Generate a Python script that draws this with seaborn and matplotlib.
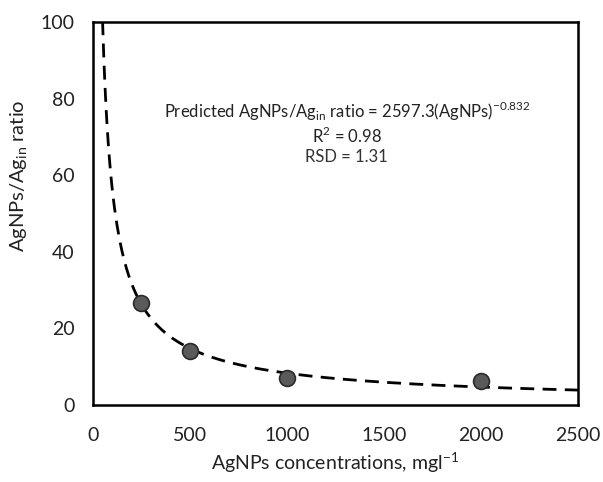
import numpy as np
import pandas as pd
import matplotlib
matplotlib.use('Agg')
import matplotlib.pyplot as plt
import seaborn as sns

# measured points
conc = [250, 500, 1000, 2000]
ratio = [26.5, 14.2, 7.0, 6.3]

# fitted power law, as printed on the chart
fit_a = 2597.3
fit_b = -0.832
fit_x_start = 50
fit_x_end = 2500

x_ticks = [0, 500, 1000, 1500, 2000, 2500]
y_ticks = [0, 20, 40, 60, 80, 100]

sns.set_style('white')
plt.rcParams['font.family'] = ['Lato', 'DejaVu Sans']
plt.rcParams['mathtext.fontset'] = 'custom'
plt.rcParams['mathtext.rm'] = 'Lato'

df = pd.DataFrame({'conc': conc, 'ratio': ratio})
xs = np.linspace(fit_x_start, fit_x_end, 400)
fit = pd.DataFrame({'conc': xs, 'ratio': fit_a * xs ** fit_b})

fig = plt.figure(figsize=(6.03, 4.82), dpi=100)
ax = fig.add_axes([0.154, 0.160, 0.805, 0.794])

sns.lineplot(data=fit, x='conc', y='ratio', ax=ax, color='black',
             linestyle=(0, (5, 3)), linewidth=2)
sns.scatterplot(data=df, x='conc', y='ratio', ax=ax, s=130,
                color='#5a5a5a', edgecolor='#2a2a2a', linewidth=1.2, zorder=3)

ax.set_xlim(0, 2500)
ax.set_ylim(0, 100)
ax.set_xticks(x_ticks)
ax.set_yticks(y_ticks)
ax.tick_params(labelsize=14, length=0, colors='#222222')
ax.tick_params(axis='x', pad=16)
ax.tick_params(axis='y', pad=13)
for s in ax.spines.values():
    s.set_color('black')
    s.set_linewidth(1.8)

ax.set_xlabel('AgNPs concentrations, mgl$^{\\mathregular{-1}}$', fontsize=14,
              labelpad=4, color='#222222')
ax.set_ylabel('AgNPs/Ag$_{\\mathregular{in}}$ ratio', fontsize=14.5,
              color='#222222')
ax.yaxis.set_label_coords(-0.13, 0.6)

ax.text(0.523, 0.768,
        'Predicted AgNPs/Ag$_{\\mathregular{in}}$ ratio = 2597.3(AgNPs)$^{\\mathregular{-0.832}}$',
        transform=ax.transAxes, ha='center', va='center', fontsize=12, color='#222222')
ax.text(0.523, 0.703, 'R$^{\\mathregular{2}}$ = 0.98', transform=ax.transAxes,
        ha='center', va='center', fontsize=12, color='#222222')
ax.text(0.523, 0.647, 'RSD = 1.31', transform=ax.transAxes,
        ha='center', va='center', fontsize=12, color='#333333')

fig.savefig('out.png', dpi=100)
